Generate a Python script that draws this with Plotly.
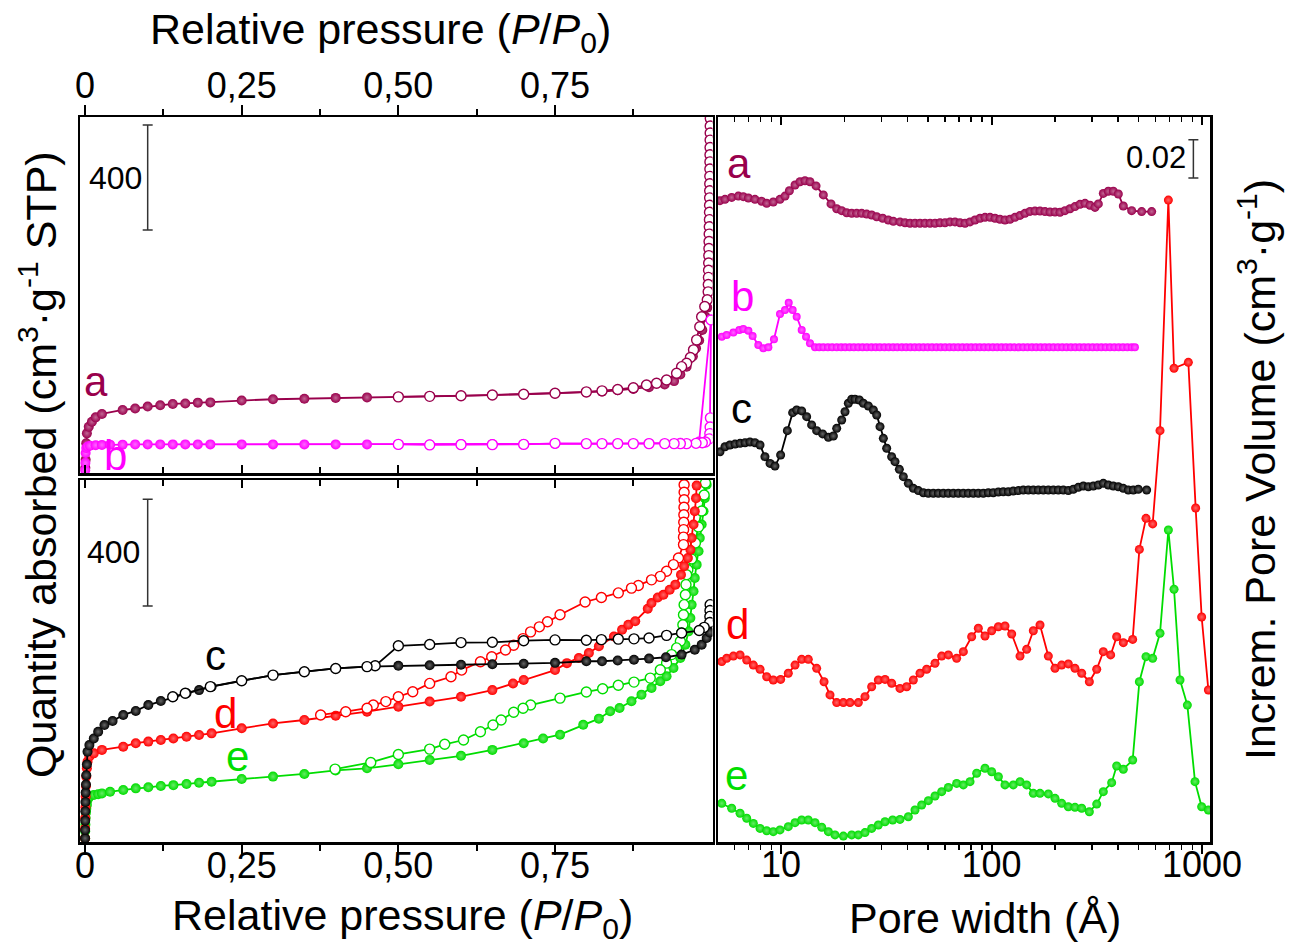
import plotly.graph_objects as go

# ---------------- N2 isotherms, top panel (samples a, b) ----------------
a_ads_x = [0.0005, 0.001, 0.002, 0.003, 0.006, 0.011, 0.017, 0.027, 0.06, 0.08,
           0.10, 0.12, 0.14, 0.16, 0.18, 0.20, 0.25, 0.30, 0.35, 0.40,
           0.45, 0.50, 0.55, 0.60, 0.65, 0.70, 0.75, 0.80, 0.825, 0.85,
           0.875, 0.90, 0.925, 0.94, 0.95, 0.96, 0.97, 0.975, 0.98, 0.985,
           0.99, 0.993]
a_ads_y = [20, 50, 113, 151, 176, 195, 212, 225, 240, 246,
           253, 258, 263, 265, 268, 269, 276, 281, 283, 286,
           288, 290, 292, 294, 297, 300, 303, 307, 310, 315,
           320, 327, 337, 350, 375, 405, 445, 475, 505, 545,
           595, 630]
a_des_x = [0.9978, 0.9977, 0.9976, 0.9975, 0.9974, 0.9973, 0.9972, 0.9971, 0.997, 0.9969,
           0.9968, 0.9967, 0.9966, 0.9965, 0.9964, 0.9962, 0.996, 0.9958, 0.9956, 0.9954,
           0.9952, 0.995, 0.9948, 0.9946, 0.9944, 0.993, 0.989, 0.984, 0.981, 0.976,
           0.971, 0.966, 0.96, 0.952, 0.944, 0.928, 0.912, 0.896, 0.875, 0.85,
           0.825, 0.80, 0.75, 0.70, 0.65, 0.60, 0.55, 0.50]
a_des_y = [1350, 1322, 1295, 1268, 1240, 1212, 1185, 1158, 1130, 1102,
           1075, 1048, 1020, 993, 965, 938, 910, 882, 855, 828,
           800, 772, 745, 718, 690, 660, 634, 595, 557, 507,
           469, 440, 418, 405, 380, 354, 342, 335, 325, 318,
           313, 309, 304, 300, 297, 294, 292, 290]
b_ads_x = [0.0003, 0.0006, 0.001, 0.002, 0.004, 0.008, 0.017, 0.027, 0.04, 0.06,
           0.08, 0.10, 0.12, 0.14, 0.16, 0.18, 0.20, 0.25, 0.30, 0.35,
           0.40, 0.45, 0.50, 0.55, 0.60, 0.65, 0.70, 0.75, 0.80, 0.85,
           0.90, 0.95, 0.98, 0.999]
b_ads_y = [10, 38, 76, 95, 101, 104, 106, 107, 108, 108,
           109, 109, 109, 109, 109, 109, 109, 109, 109, 109,
           109, 109, 109, 109, 110, 110, 110, 111, 111, 112,
           113, 115, 120, 583]
b_des_x = [0.999, 0.998, 0.9975, 0.997, 0.996, 0.99, 0.985, 0.975, 0.96, 0.95,
           0.94, 0.925, 0.90, 0.875, 0.85, 0.825, 0.80, 0.75, 0.70, 0.65,
           0.60, 0.55, 0.50]
b_des_y = [583, 210, 175, 150, 130, 118, 115, 113, 112, 112,
           112, 112, 112, 112, 112, 112, 112, 113, 109, 108,
           108, 107, 109]

# ---------------- N2 isotherms, bottom panel (samples c, d, e) ----------------
c_ads_x = [0.0001, 0.0002, 0.0003, 0.0005, 0.0007, 0.001, 0.0015, 0.002, 0.003, 0.004,
           0.007, 0.014, 0.021, 0.031, 0.044, 0.061, 0.081, 0.101, 0.121, 0.141,
           0.162, 0.182, 0.202, 0.25, 0.30, 0.35, 0.40, 0.45, 0.50, 0.55,
           0.60, 0.65, 0.70, 0.75, 0.80, 0.825, 0.85, 0.876, 0.90, 0.927,
           0.952, 0.973, 0.984, 0.992, 0.997]
c_ads_y = [14, 45, 80, 115, 150, 185, 215, 250, 290, 338,
           363, 388, 413, 438, 453, 476, 491, 513, 528, 544,
           557, 569, 582, 604, 625, 638, 650, 657, 660, 662,
           664, 666, 668, 671, 677, 677, 680, 683, 687, 692,
           702, 720, 739, 764, 785]
c_des_x = [0.9975, 0.9973, 0.9971, 0.9969, 0.988, 0.980, 0.952, 0.928, 0.900, 0.876,
           0.851, 0.824, 0.80, 0.75, 0.70, 0.65, 0.60, 0.55, 0.50, 0.463,
           0.45, 0.40, 0.35, 0.30, 0.25, 0.20, 0.16, 0.14]
c_des_y = [889, 867, 845, 822, 804, 792, 783, 774, 764, 761,
           760, 758, 756, 757, 754, 748, 747, 740, 735, 660,
           657, 650, 638, 625, 604, 582, 557, 544]
d_ads_x = [0.0001, 0.0002, 0.0004, 0.0007, 0.001, 0.0015, 0.002, 0.003, 0.004, 0.007,
           0.014, 0.027, 0.061, 0.081, 0.101, 0.121, 0.141, 0.162, 0.182, 0.202,
           0.25, 0.30, 0.35, 0.40, 0.45, 0.50, 0.55, 0.60, 0.65, 0.683,
           0.70, 0.75, 0.769, 0.788, 0.804, 0.820, 0.844, 0.857, 0.867, 0.878,
           0.898, 0.904, 0.914, 0.923, 0.933, 0.942, 0.951, 0.956, 0.962, 0.966,
           0.968, 0.971, 0.973, 0.975, 0.976]
d_ads_y = [14, 50, 90, 130, 170, 210, 245, 276, 301, 320,
           332, 345, 357, 370, 376, 382, 388, 394, 401, 407,
           426, 444, 457, 473, 488, 507, 526, 544, 569, 594,
           607, 644, 670, 689, 708, 733, 770, 795, 814, 827,
           874, 895, 916, 926, 945, 964, 1001, 1033, 1064, 1095,
           1139, 1189, 1239, 1288, 1335]
d_des_x = [0.956, 0.956, 0.956, 0.9558, 0.9556, 0.9554, 0.9552, 0.955, 0.955, 0.947,
           0.939, 0.928, 0.918, 0.904, 0.883, 0.872, 0.851, 0.824, 0.798, 0.758,
           0.738, 0.725, 0.711, 0.699, 0.684, 0.671, 0.649, 0.631, 0.601, 0.584,
           0.550, 0.523, 0.50, 0.48, 0.46, 0.45, 0.416, 0.376]
d_des_y = [1338, 1310, 1282, 1254, 1226, 1198, 1170, 1142, 1114, 1064,
           1039, 1014, 995, 982, 961, 951, 933, 916, 899, 851,
           825, 806, 787, 762, 737, 719, 694, 675, 644, 619,
           594, 563, 544, 526, 513, 501, 488, 476]
e_ads_x = [0.0001, 0.0003, 0.0006, 0.001, 0.0015, 0.002, 0.003, 0.004, 0.007, 0.014,
           0.021, 0.027, 0.04, 0.061, 0.081, 0.101, 0.121, 0.141, 0.162, 0.182,
           0.202, 0.25, 0.30, 0.35, 0.40, 0.45, 0.50, 0.55, 0.60, 0.65,
           0.70, 0.731, 0.758, 0.795, 0.820, 0.838, 0.853, 0.872, 0.888, 0.904,
           0.918, 0.928, 0.939, 0.950, 0.958, 0.963, 0.966, 0.968, 0.971, 0.973,
           0.976, 0.979, 0.981, 0.984, 0.987, 0.989, 0.992]
e_ads_y = [14, 40, 65, 90, 110, 125, 139, 157, 170, 176,
           179, 182, 188, 195, 201, 205, 210, 213, 217, 222,
           226, 236, 245, 255, 268, 276, 291, 307, 323, 345,
           370, 388, 402, 439, 462, 490, 502, 527, 552, 577,
           602, 621, 652, 689, 739, 789, 839, 889, 939, 989,
           1039, 1089, 1139, 1189, 1239, 1288, 1338]
e_des_x = [0.990, 0.988, 0.984, 0.979, 0.974, 0.968, 0.962, 0.960, 0.959, 0.958,
           0.956, 0.955, 0.954, 0.952, 0.950, 0.944, 0.936, 0.928, 0.918, 0.902,
           0.876, 0.851, 0.826, 0.800, 0.758, 0.711, 0.699, 0.684, 0.664, 0.651,
           0.631, 0.604, 0.574, 0.550, 0.50, 0.456, 0.399]
e_des_y = [1345, 1300, 1240, 1180, 1120, 1060, 1020, 1001, 964, 926,
           889, 851, 814, 783, 752, 727, 702, 670, 645, 614,
           599, 587, 574, 562, 539, 513, 501, 486, 457, 438,
           413, 382, 366, 348, 328, 298, 273]

# ---------------- pore size distributions (offset), right panel ----------------
a_w = [5.13, 5.42, 5.83, 6.27, 6.62, 7.00, 7.52, 8.09, 8.55, 9.19,
       9.89, 10.45, 10.96, 11.66, 12.31, 13.00, 13.73, 14.67, 15.89, 17.28,
       18.39, 19.42, 20.51, 21.67, 22.88, 24.17, 25.53, 26.96, 28.48, 30.41,
       32.35, 34.18, 36.75, 38.82, 41.01, 43.31, 45.75, 48.32, 51.04, 53.91,
       56.94, 60.14, 63.52, 67.09, 70.86, 74.85, 79.06, 83.50, 88.20, 93.15,
       98.39, 103.9, 109.7, 115.9, 122.4, 129.3, 136.6, 144.2, 152.4, 160.9,
       170.0, 179.5, 189.6, 200.3, 211.5, 223.4, 236.0, 249.2, 263.3, 278.1,
       293.7, 310.2, 321.7, 339.8, 358.9, 379.1, 400.4, 422.9, 463.4, 516.9,
       576.7]
a_v = [.3349, .3356, .3366, .3373, .3370, .3363, .3356, .3346, .3335, .3342,
       .3356, .3373, .3401, .3431, .3448, .3453, .3448, .3426, .3379, .3332,
       .3307, .3297, .3286, .3283, .3283, .3283, .3279, .3274, .3265, .3257,
       .3248, .3241, .3238, .3234, .3231, .3231, .3231, .3231, .3231, .3231,
       .3234, .3234, .3238, .3238, .3234, .3231, .3238, .3248, .3257, .3262,
       .3262, .3257, .3252, .3248, .3252, .3262, .3272, .3283, .3293, .3295,
       .3295, .3292, .3290, .3290, .3288, .3297, .3307, .3318, .3330, .3335,
       .3325, .3314, .3332, .3387, .3398, .3398, .3384, .3321, .3297, .3292,
       .3292]
b_w = [5.23, 5.52, 5.94, 6.34, 6.62, 7.00, 7.33, 7.80, 8.24, 8.71,
       9.26, 9.89, 10.45, 10.88, 11.36, 11.87, 12.54, 13.15, 13.73, 14.51,
       15.2, 15.9, 16.7, 17.5, 18.4, 19.3, 20.2, 21.2, 22.2, 23.3,
       24.4, 25.6, 26.9, 28.2, 29.5, 31.0, 32.5, 34.1, 35.7, 37.5,
       39.3, 41.2, 43.2, 45.3, 47.5, 49.8, 52.2, 54.8, 57.4, 60.2,
       63.2, 66.2, 69.4, 72.8, 76.4, 80.1, 84.0, 88.0, 92.3, 96.8,
       101.5, 106.4, 111.6, 117.0, 122.7, 128.7, 134.9, 141.5, 148.4, 155.6,
       163.1, 171.1, 179.4, 188.1, 197.2, 206.8, 216.9, 227.4, 238.5, 250.1,
       262.2, 275.0, 288.3, 302.4, 317.1, 332.5, 348.6, 365.6, 383.4, 402.0,
       421.5, 442.0, 463.5, 480.0]
b_v = [.2639, .2648, .2660, .2674, .2679, .2670, .2642, .2595, .2578, .2583,
       .2625, .2757, .2778, .2816, .2778, .2743, .2674, .2639, .2604, .2583,
       .2583, .2583, .2583, .2583, .2583, .2583, .2583, .2583, .2583, .2583,
       .2583, .2583, .2583, .2583, .2583, .2583, .2583, .2583, .2583, .2583,
       .2583, .2583, .2583, .2583, .2583, .2583, .2583, .2583, .2583, .2583,
       .2583, .2583, .2583, .2583, .2583, .2583, .2583, .2583, .2583, .2583,
       .2583, .2583, .2583, .2583, .2583, .2583, .2583, .2583, .2583, .2583,
       .2583, .2583, .2583, .2583, .2583, .2583, .2583, .2583, .2583, .2583,
       .2583, .2583, .2583, .2583, .2583, .2583, .2583, .2583, .2583, .2583,
       .2583, .2583, .2583, .2583]
c_w = [5.13, 5.42, 5.72, 6.05, 6.39, 6.75, 7.12, 7.52, 7.95, 8.39,
       8.87, 9.36, 9.96, 10.72, 11.36, 11.87, 12.54, 13.24, 13.98, 14.77,
       15.77, 16.79, 17.73, 18.39, 19.42, 20.14, 20.89, 21.67, 22.47, 23.56,
       24.61, 26.0, 27.46, 28.48, 29.53, 30.63, 31.77, 33.55, 34.80, 36.49,
       38.12, 40.27, 42.53, 44.92, 47.46, 50.11, 52.93, 55.9, 59.06, 62.37,
       65.88, 69.58, 73.49, 77.62, 81.99, 86.58, 91.47, 96.6, 102.0, 107.8,
       113.8, 120.2, 126.9, 134.1, 141.6, 149.6, 158.0, 166.9, 176.3, 186.2,
       196.7, 207.7, 219.4, 231.7, 244.8, 258.5, 273.1, 288.4, 304.6, 321.7,
       339.8, 358.9, 379.0, 400.4, 422.8, 446.6, 471.7, 498.2, 545.8]
c_v = [.2038, .2064, .2073, .2078, .2082, .2085, .2089, .2085, .2073, .2012,
       .1977, .1963, .2021, .2148, .2242, .2256, .2251, .2221, .2178, .2148,
       .2131, .2113, .2120, .2160, .2204, .2247, .2291, .2312, .2312, .2308,
       .2291, .2277, .2256, .2230, .2169, .2108, .2056, .2012, .1986, .1946,
       .1908, .1873, .1847, .1835, .1824, .1821, .1821, .1821, .1821, .1821,
       .1821, .1821, .1821, .1821, .1821, .1821, .1821, .1824, .1824, .1828,
       .1829, .1829, .1833, .1835, .1838, .1838, .1838, .1838, .1838, .1838,
       .1838, .1838, .1838, .1835, .1842, .1852, .1859, .1855, .1859, .1864,
       .1873, .1864, .1859, .1855, .1847, .1838, .1838, .1842, .1838]
d_w = [5.23, 5.52, 5.94, 6.39, 6.87, 7.39, 7.95, 8.55, 9.19, 9.96,
       10.83, 11.66, 12.54, 13.48, 14.77, 16.01, 17.09, 18.39, 19.78, 21.27,
       23.30, 25.06, 26.96, 29.0, 31.20, 33.55, 36.75, 39.54, 42.53, 45.75,
       49.20, 53.91, 57.99, 62.38, 68.32, 73.49, 80.5, 86.58, 93.15, 100.2,
       107.8, 115.9, 124.7, 136.6, 146.9, 158.0, 170.0, 186.2, 200.3, 215.4,
       231.7, 249.2, 268.2, 291.6, 316.1, 339.8, 368.2, 393.2, 422.9, 468.4,
       504.0, 542.0, 583.0, 631.7, 692.1, 736.3, 861.3, 933.0, 996.3, 1072]
d_v = [.0942, .0959, .0971, .0977, .0950, .0924, .0902, .0863, .0846, .0849,
       .0881, .0924, .0954, .0954, .0907, .0837, .0768, .0728, .0728, .0728,
       .0728, .0759, .0811, .0846, .0849, .0829, .0802, .0811, .0846, .0881,
       .0902, .0933, .0971, .0977, .0959, .0994, .1072, .1116, .1076, .1103,
       .1124, .1128, .1086, .0971, .1006, .1103, .1133, .0971, .0907, .0924,
       .0930, .0907, .0881, .0837, .0902, .0994, .0977, .1072, .1041, .1058,
       .1528, .1690, .1661, .2148, .3352, .2474, .2505, .1744, .1175, .0794]
e_w = [5.23, 5.83, 6.39, 6.87, 7.39, 7.95, 8.55, 9.19, 9.89, 10.83,
       11.66, 12.54, 13.48, 14.51, 15.61, 16.79, 18.05, 19.78, 21.67, 23.30,
       25.06, 26.96, 29.0, 31.20, 33.92, 36.75, 40.27, 43.31, 46.59, 50.11,
       53.91, 57.99, 62.38, 68.32, 73.49, 79.06, 85.04, 93.15, 100.2, 107.8,
       115.9, 126.9, 136.6, 146.9, 158.0, 170.0, 186.2, 200.3, 215.4, 231.7,
       249.2, 268.2, 291.6, 316.1, 339.8, 372.3, 393.2, 422.9, 468.4, 504.0,
       542.0, 583.0, 631.7, 692.1, 736.3, 786.3, 851.9, 926.2, 996.3, 1072]
e_v = [.0202, .0176, .0150, .0124, .0097, .0071, .0059, .0054, .0063, .0080,
       .0101, .0115, .0115, .0101, .0077, .0054, .0037, .0031, .0037, .0037,
       .0049, .0071, .0089, .0106, .0115, .0118, .0132, .0167, .0193, .0216,
       .0240, .0263, .0285, .0306, .0298, .0315, .0359, .0385, .0367, .0341,
       .0298, .0298, .0315, .0298, .0254, .0254, .0251, .0228, .0202, .0184,
       .0181, .0176, .0158, .0198, .0263, .0310, .0397, .0380, .0428, .0837,
       .0968, .0959, .1090, .1629, .1320, .0846, .0715, .0315, .0184, .0167]

# ---------------- scale bars (position, length) ----------------
iso_bar_top = (0.1, 1126, 400)
iso_bar_bottom = (0.1, 1084, 400)
psd_bar = (910, 0.3567, 0.02)

# ---------------- tick labels ----------------
p_tickvals = [0, 0.25, 0.5, 0.75]
p_ticktext = ["0", "0,25", "0,50", "0,75"]
p_minor = [0.125, 0.375, 0.625, 0.875]
w_tickvals = [10, 100, 1000]
w_ticktext = ["10", "100", "1000"]
w_minor = [5, 6, 7, 8, 9, 20, 30, 40, 50, 60, 70, 80, 90, 200, 300, 400, 500, 600, 700, 800, 900]

# ---------------- styling ----------------
W, H = 1290, 952
FONT = "Arial, Liberation Sans, sans-serif"
COL = dict(a="#99004C", b="#FF00FF", c="#000000", d="#FF0000", e="#00DD00")
HI = dict(a="#C26694", b="#FF66FF", c="#666666", d="#FF6666", e="#66EB66")

XL = [80 / W, 712.5 / W]
XR = [718 / W, 1210 / W]
YT = [1 - 473 / H, 1 - 117 / H]
YB = [1 - 842 / H, 1 - 480 / H]
P_RANGE = [-0.008, 1.0013]
ISO_RANGE = [0, 1356]
PSD_RANGE = [0, 0.3786]
W_RANGE = [0.7007, 3.038]

fig = go.Figure()


def filled(x, y, k, xa, ya, size=10, lw=1.8):
    fig.add_trace(go.Scatter(
        x=x, y=y, xaxis=xa, yaxis=ya, mode="lines+markers",
        line=dict(color=COL[k], width=lw),
        marker=dict(symbol="circle", size=size, color=COL[k],
                    gradient=dict(type="radial", color=HI[k]), line=dict(width=0)),
        showlegend=False, hoverinfo="skip"))


def hollow(x, y, k, xa, ya, size=10, lw=1.8):
    fig.add_trace(go.Scatter(
        x=x, y=y, xaxis=xa, yaxis=ya, mode="lines+markers",
        line=dict(color=COL[k], width=lw),
        marker=dict(symbol="circle", size=size, color="white",
                    line=dict(color=COL[k], width=1.4)),
        showlegend=False, hoverinfo="skip"))


def bar(xa, ya, spec):
    x0, y0, length = spec
    fig.add_trace(go.Scatter(
        x=[x0], y=[y0], xaxis=xa, yaxis=ya, mode="markers",
        marker=dict(size=1, color="rgba(0,0,0,0)"),
        error_y=dict(type="data", array=[length / 2], visible=True,
                     color="#333333", thickness=1.5, width=5),
        showlegend=False, hoverinfo="skip"))


# top-left isotherms
filled(a_ads_x, a_ads_y, "a", "x", "y")
hollow(a_des_x, a_des_y, "a", "x", "y")
filled(b_ads_x, b_ads_y, "b", "x", "y")
hollow(b_des_x, b_des_y, "b", "x", "y")
bar("x4", "y", iso_bar_top)

# bottom-left isotherms
filled(e_ads_x, e_ads_y, "e", "x2", "y2")
hollow(e_des_x, e_des_y, "e", "x2", "y2")
filled(d_ads_x, d_ads_y, "d", "x2", "y2")
hollow(d_des_x, d_des_y, "d", "x2", "y2")
filled(c_ads_x, c_ads_y, "c", "x2", "y2")
hollow(c_des_x, c_des_y, "c", "x2", "y2")
bar("x5", "y2", iso_bar_bottom)

# right PSD
filled(a_w, a_v, "a", "x3", "y3", size=9, lw=1.8)
filled(b_w, b_v, "b", "x3", "y3", size=8, lw=1.8)
filled(c_w, c_v, "c", "x3", "y3", size=9, lw=1.8)
filled(e_w, e_v, "e", "x3", "y3", size=9, lw=1.8)
filled(d_w, d_v, "d", "x3", "y3", size=9, lw=1.8)
bar("x6", "y3", psd_bar)

TF = dict(family=FONT, size=36, color="black")


def p_axis(side, ticks, labels, anchor, overlay=None, standoff=0):
    d = dict(range=P_RANGE, tickmode="array", tickvals=p_tickvals, ticktext=p_ticktext,
             side=side, ticks=ticks, ticklen=10 if ticks == "outside" else 8,
             tickwidth=2, tickcolor="black", showticklabels=labels, tickfont=TF,
             ticklabelstandoff=standoff, automargin=False,
             showgrid=False, zeroline=False, anchor=anchor,
             minor=dict(tickmode="array", tickvals=p_minor, ticks=ticks,
                        ticklen=6, tickwidth=2, tickcolor="black"))
    if overlay:
        d.update(overlaying=overlay, showline=False)
    else:
        d.update(domain=XL, showline=True, linewidth=2.5, linecolor="black", mirror=True)
    return d


def w_axis(side, ticks, labels, anchor, overlay=None, standoff=0):
    d = dict(type="log", range=W_RANGE, tickmode="array", tickvals=w_tickvals,
             ticktext=w_ticktext, side=side, ticks=ticks,
             ticklen=9 if ticks == "outside" else 8, tickwidth=2, tickcolor="black",
             showticklabels=labels, tickfont=TF, ticklabelstandoff=standoff,
             automargin=False, showgrid=False, zeroline=False, anchor=anchor,
             minor=dict(tickmode="array", tickvals=w_minor, ticks=ticks,
                        ticklen=5, tickwidth=1.5, tickcolor="black"))
    if overlay:
        d.update(overlaying=overlay, showline=False)
    else:
        d.update(domain=XR, showline=True, linewidth=2.5, linecolor="black", mirror=True)
    return d


def y_axis(dom, rng, anchor):
    return dict(domain=dom, range=rng, anchor=anchor, showline=True, linewidth=2.5,
                linecolor="black", mirror=True, ticks="", showticklabels=False,
                showgrid=False, zeroline=False, automargin=False)


def ann(text, px, py, size, color="black", angle=0):
    return dict(text=text, x=px / W, y=1 - py / H, xref="paper", yref="paper",
                showarrow=False, xanchor="center", yanchor="middle", textangle=angle,
                font=dict(family=FONT, size=size, color=color))


PP = "Relative pressure (<i>P</i>/<i>P</i><sub>0</sub>)"
annotations = [
    ann(PP, 380, 32, 43),
    ann(PP, 402, 918, 43),
    ann("Pore width (Å)", 985, 918, 43),
    ann("Quantity absorbed (cm<sup>3</sup>·g<sup>-1</sup> STP)", 38, 465, 43, angle=-90),
    ann("Increm. Pore Volume (cm<sup>3</sup>·g<sup>-1</sup>)", 1257, 470, 43, angle=-90),
    ann("400", 115, 178, 32),
    ann("400", 113, 552, 32),
    ann("0.02", 1156, 158, 31),
    ann("a", 96, 381, 42, COL["a"]),
    ann("b", 115, 455, 42, COL["b"]),
    ann("c", 215, 655, 42, COL["c"]),
    ann("d", 225, 713, 42, COL["d"]),
    ann("e", 237, 756, 42, COL["e"]),
    ann("a", 739, 163, 42, COL["a"]),
    ann("b", 742, 296, 42, COL["b"]),
    ann("c", 741, 408, 42, COL["c"]),
    ann("d", 737, 624, 42, COL["d"]),
    ann("e", 736, 775, 42, COL["e"]),
]

fig.update_layout(
    width=W, height=H, autosize=False,
    margin=dict(l=0, r=0, t=0, b=0, pad=0, autoexpand=False),
    paper_bgcolor="white", plot_bgcolor="rgba(0,0,0,0)",
    showlegend=False, font=dict(family=FONT, color="black"),
    xaxis=p_axis("top", "outside", True, "y", standoff=-8),
    xaxis4=p_axis("bottom", "inside", False, "y", overlay="x"),
    yaxis=y_axis(YT, ISO_RANGE, "x"),
    xaxis2=p_axis("bottom", "outside", True, "y2", standoff=-20),
    xaxis5=p_axis("top", "inside", False, "y2", overlay="x2"),
    yaxis2=y_axis(YB, ISO_RANGE, "x2"),
    xaxis3=w_axis("bottom", "outside", True, "y3", standoff=-20),
    xaxis6=w_axis("top", "inside", False, "y3", overlay="x3"),
    yaxis3=y_axis([YB[0], YT[1]], PSD_RANGE, "x3"),
    annotations=annotations,
)

fig.write_html(
    "out.html",
    config={"responsive": False, "displayModeBar": False, "staticPlot": True},
    post_script="document.body.style.margin='0px';document.body.style.overflow='hidden';",
)
